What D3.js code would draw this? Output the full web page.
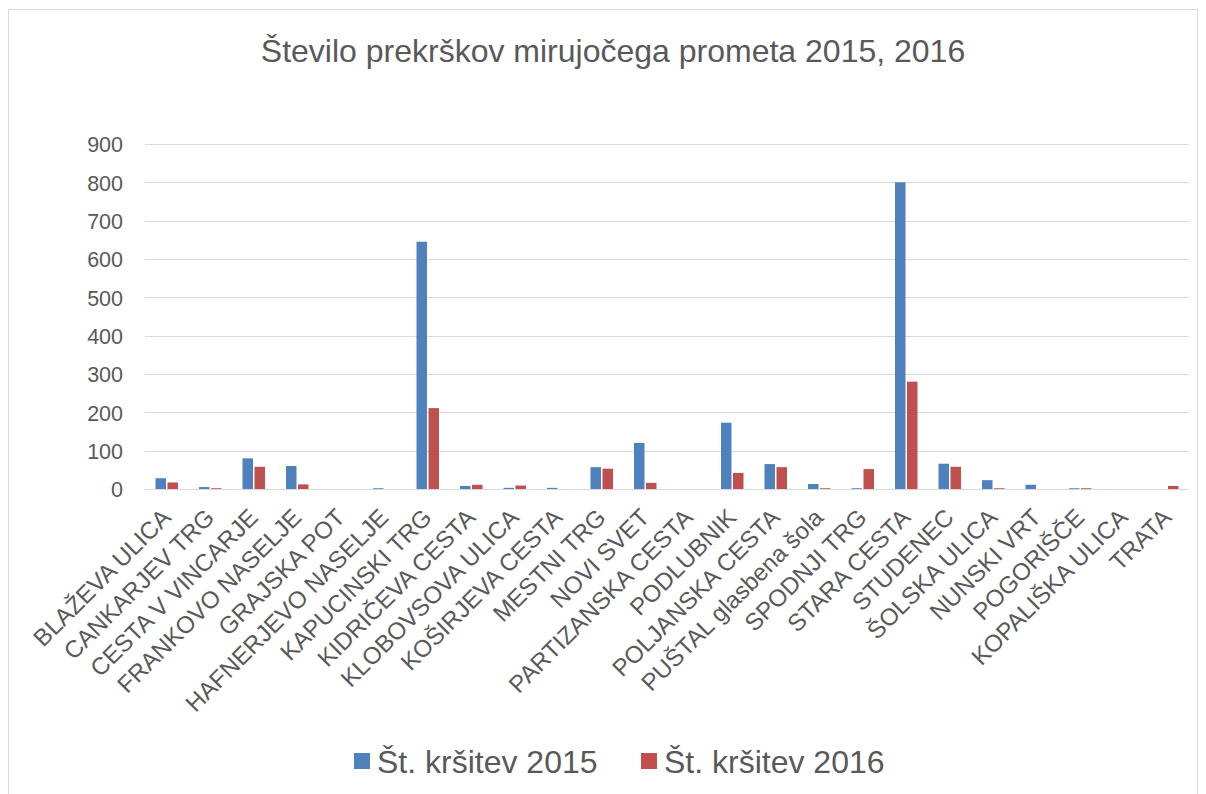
<!DOCTYPE html>
<html><head><meta charset="utf-8">
<script src="https://cdn.jsdelivr.net/npm/d3@7"></script>
<style>body{margin:0;background:#fff;} text{font-family:"Liberation Sans",Arial,sans-serif;fill:#595959;}</style>
</head><body>
<svg id="c" width="1206" height="794"></svg>
<script>
const categories = ["BLAŽEVA ULICA","CANKARJEV TRG","CESTA V VINCARJE","FRANKOVO NASELJE","GRAJSKA POT","HAFNERJEVO NASELJE","KAPUCINSKI TRG","KIDRIČEVA CESTA","KLOBOVSOVA ULICA","KOŠIRJEVA CESTA","MESTNI TRG","NOVI SVET","PARTIZANSKA CESTA","PODLUBNIK","POLJANSKA CESTA","PUŠTAL glasbena šola","SPODNJI TRG","STARA CESTA","STUDENEC","ŠOLSKA ULICA","NUNSKI VRT","POGORIŠČE","KOPALIŠKA ULICA","TRATA"];
const values2015 = [28,5,80,60,0,2,645,8,3,3,57,120,0,173,65,13,2,800,66,23,11,2,0,0];
const values2016 = [17,2,58,12,0,0,211,11,9,0,53,16,0,42,57,2,52,280,58,2,0,2,0,8];
const seriesNames = ["Št. kršitev 2015","Št. kršitev 2016"];
const yTicks = [0,100,200,300,400,500,600,700,800,900];
const colors = ["#4f81bd","#c0504d"];

const svg = d3.select("#c");
svg.append("rect").attr("x",8.5).attr("y",9.5).attr("width",1189).attr("height",800).attr("fill","none").attr("stroke","#d9d9d9");

const x = d3.scaleBand().domain(categories).range([145,1189]).paddingInner(0).paddingOuter(0);
const y = d3.scaleLinear().domain([0,900]).range([489,144]);
const bw = 10.5, gap = 1.5;

svg.append("text").attr("x",613).attr("y",62).attr("text-anchor","middle").style("font-size","32px").text("Število prekrškov mirujočega prometa 2015, 2016");

const g = svg.append("g");
g.selectAll(".grid").data(yTicks).join("line").attr("x1",145).attr("x2",1189)
  .attr("y1",d=>Math.round(y(d))+0.5).attr("y2",d=>Math.round(y(d))+0.5).attr("stroke","#d9d9d9").attr("stroke-width",1);

const yAxis = d3.axisLeft(y).tickValues(yTicks).tickSize(0).tickPadding(0);
const ya = svg.append("g").attr("transform","translate(123,0)").call(yAxis);
ya.select(".domain").remove();
ya.selectAll("text").style("font-size","21.5px").style("font-family","'Liberation Sans',Arial,sans-serif").attr("fill","#595959").attr("dy","0.36em");

[values2015, values2016].forEach((vals,si)=>{
  g.selectAll(".b"+si).data(vals).join("rect")
   .attr("x",(d,i)=>x(categories[i]) + x.bandwidth()/2 + (si===0 ? -(bw+gap/2) : gap/2))
   .attr("width",bw)
   .attr("y",d=>y(d)).attr("height",d=>y(0)-y(d))
   .attr("fill",colors[si]);
});

const xa = svg.append("g");
xa.selectAll("text").data(categories).join("text")
  .attr("transform",d=>`translate(${x(d)+x.bandwidth()/2+5.5},${519}) rotate(-45)`)
  .attr("text-anchor","end").style("font-size","24px").text(d=>d);

const leg = svg.append("g");
const legX = [354, 641];
seriesNames.forEach((n,i)=>{
  leg.append("rect").attr("x",legX[i]).attr("y",753).attr("width",16).attr("height",16).attr("fill",colors[i]);
  leg.append("text").attr("x",legX[i]+23).attr("y",773).style("font-size",  "32px").text(n);
});
</script>
</body></html>
